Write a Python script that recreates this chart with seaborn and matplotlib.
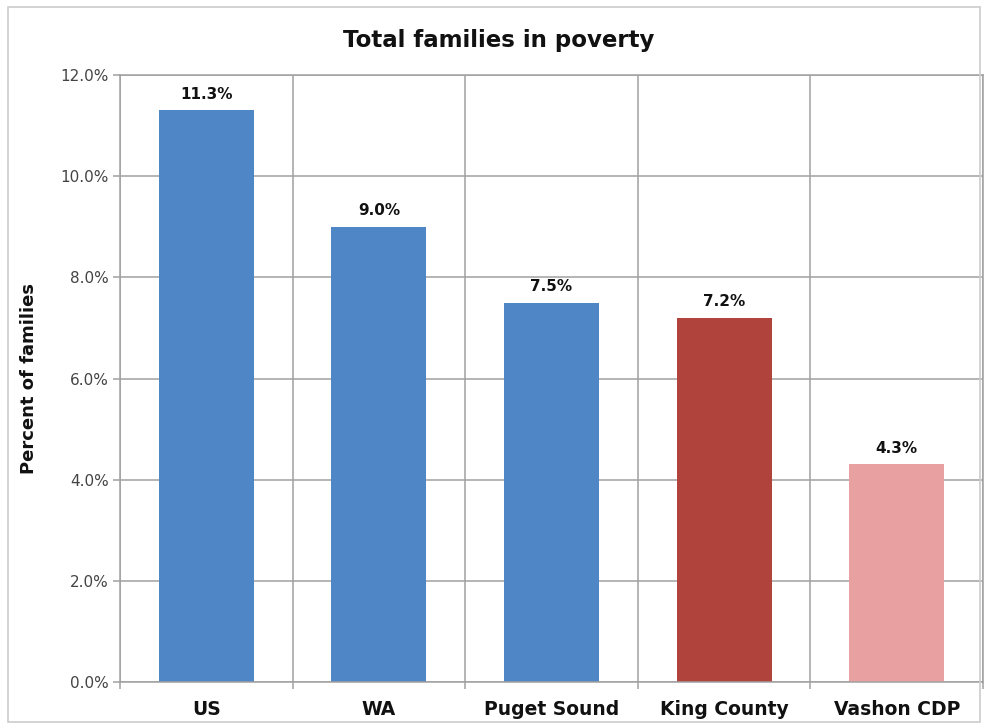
import matplotlib
matplotlib.use("Agg")
import matplotlib.pyplot as plt
import seaborn as sns
import pandas as pd
from matplotlib.patches import Rectangle
from matplotlib.ticker import FixedLocator, FuncFormatter

categories = ["US", "WA", "Puget Sound", "King County", "Vashon CDP"]
values = [11.3, 9.0, 7.5, 7.2, 4.3]
colors = ["#4f86c6", "#4f86c6", "#4f86c6", "#b0433c", "#e8a0a0"]
yticks = [0, 2, 4, 6, 8, 10, 12]

sns.set_theme(style="white")
plt.rcParams['font.family'] = ['DejaVu Sans']

df = pd.DataFrame({"cat": categories, "val": values})

fig = plt.figure(figsize=(9.88, 7.26), dpi=100)
ax = fig.add_axes([0.1215, 0.0606, 0.8735, 0.8361])
sns.barplot(data=df, x="cat", y="val", hue="cat", palette=colors, legend=False,
            width=0.55, ax=ax, saturation=1, linewidth=0)

ax.set_ylim(0, 12)
ax.set_xlim(-0.5, len(categories) - 0.5)
ax.set_yticks(yticks)
ax.yaxis.set_major_formatter(FuncFormatter(lambda v, p: f"{v:.1f}%"))
ax.yaxis.grid(True, color="#a0a0a0", linewidth=1.1)
ax.xaxis.set_minor_locator(FixedLocator([i - 0.5 for i in range(len(categories) + 1)]))
ax.xaxis.grid(True, which="minor", color="#a0a0a0", linewidth=1.1)
ax.set_axisbelow(True)
ax.tick_params(axis="x", which="major", length=0, pad=13, labelsize=13.5, labelcolor="#111111")
ax.tick_params(axis="x", which="minor", length=5, color="#a0a0a0", width=1.1, direction="out", bottom=True)
ax.tick_params(axis="y", length=5, color="#a0a0a0", width=1.1, direction="out", left=True,
               labelsize=11, labelcolor="#444444", pad=3)
for lab in ax.get_xticklabels():
    lab.set_fontweight("bold")
for s in ax.spines.values():
    s.set_color("#a0a0a0")
    s.set_linewidth(1.1)

ax.set_xlabel("")
ax.set_ylabel("Percent of families", fontsize=13, fontweight="bold", color="#111111", labelpad=16)
ax.set_title("")
fig.text(0.505, 0.944, "Total families in poverty", ha="center", va="center",
         fontsize=16.5, fontweight="bold", color="#111111")

for c in ax.containers:
    ax.bar_label(c, labels=[f"{v:.1f}%" for v in c.datavalues], padding=6,
                 fontsize=11, fontweight="bold", color="#111111")

fig.patches.append(Rectangle((0.008, 0.005), 0.984, 0.985, transform=fig.transFigure,
                             fill=False, edgecolor="#cccccc", linewidth=1.2))

fig.savefig("out.png", dpi=100, facecolor="white")
